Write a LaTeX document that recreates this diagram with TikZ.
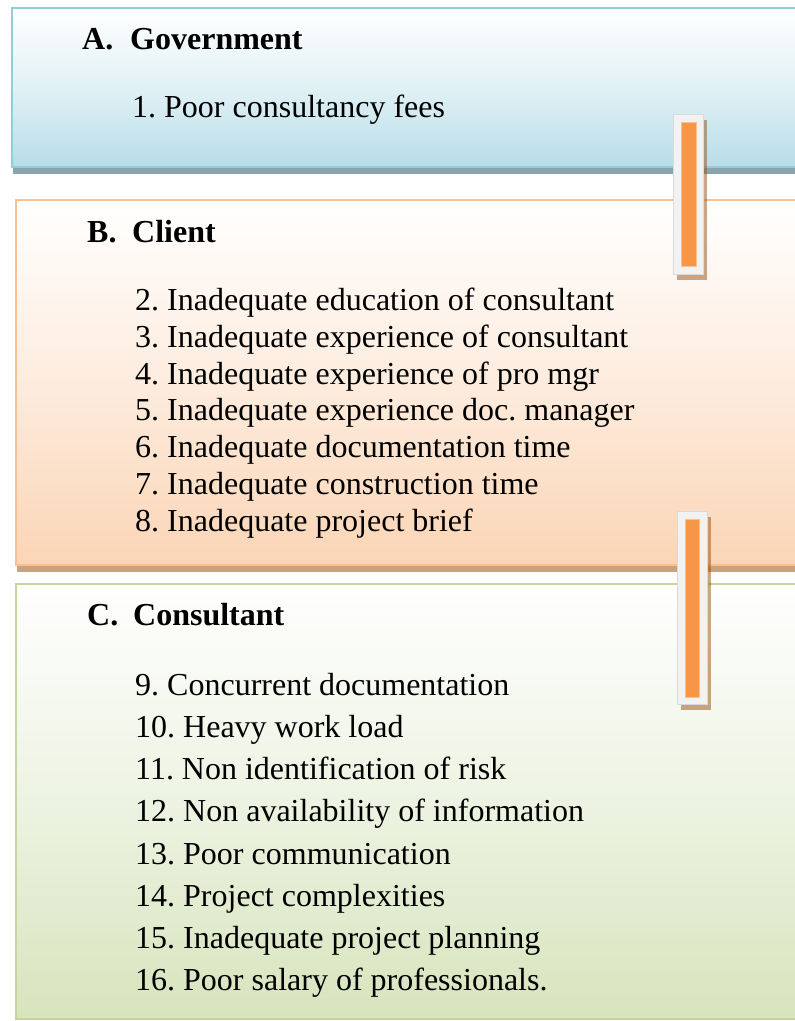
\documentclass[tikz,border=0pt]{standalone}
\usepackage{fontspec}
\setmainfont{Liberation Serif}
\frenchspacing
\definecolor{aFill}{RGB}{183,221,232}
\definecolor{aMid}{RGB}{225,241,245}
\definecolor{aLine}{RGB}{147,205,221}
\definecolor{aShadow}{RGB}{139,165,173}
\definecolor{bFill}{RGB}{251,213,181}
\definecolor{bMid}{RGB}{253,236,222}
\definecolor{bLine}{RGB}{250,192,144}
\definecolor{bShadow}{RGB}{201,162,128}
\definecolor{cFill}{RGB}{215,228,189}
\definecolor{cMid}{RGB}{237,243,226}
\definecolor{cLine}{RGB}{195,214,155}
\definecolor{barOrange}{RGB}{247,150,70}
\definecolor{barEdge}{RGB}{250,192,144}
\definecolor{barFrame}{RGB}{242,242,242}
\definecolor{barShadow}{RGB}{150,80,20}
\tikzset{
  panel/.style={anchor=north west, inner sep=0pt, outer sep=0pt, line width=2pt},
  panelshadow/.style={anchor=north west, inner sep=0pt, outer sep=0pt, draw=none},
  barshadow/.style={anchor=north west, inner sep=0pt, outer sep=0pt, fill=barShadow, fill opacity=0.5, draw=none, minimum width=30pt},
  barframe/.style={anchor=north west, inner sep=0pt, outer sep=0pt, fill=barFrame, draw=barFrame!90!black, line width=0.4pt, minimum width=30pt},
  barcore/.style={anchor=north west, inner sep=0pt, outer sep=0pt, fill=barOrange, draw=barEdge, line width=0.8pt},
  heading/.style={anchor=base west, inner sep=0pt, font=\fontsize{32}{38}\selectfont\bfseries\frenchspacing},
  item/.style={anchor=base west, inner sep=0pt, font=\fontsize{32}{38}\selectfont\frenchspacing}
}
\begin{document}
\begin{tikzpicture}[x=1pt,y=-1pt]
\useasboundingbox (0,0) rectangle (795,1021);
\clip (0,0) rectangle (795,1021);
\fill[white] (0,0) rectangle (795,1021);
% panel A
\node[panelshadow, fill=aShadow, minimum width=798pt, minimum height=8pt] (govtshadow) at (13,166) {};
\node[panel, draw=aLine, top color=white, bottom color=aFill, middle color=aMid, minimum width=798pt, minimum height=159pt] (govt) at (12,8) {};
% panel B
\node[panelshadow, fill=bShadow, minimum width=798pt, minimum height=8pt] (clientshadow) at (17,564) {};
\node[panel, draw=bLine, top color=white, bottom color=bFill, middle color=bMid, minimum width=798pt, minimum height=365pt] (client) at (16,200) {};
% connector A-B
\node[barshadow, minimum height=160pt] (barABshadow) at (677,120) {};
\node[barframe, minimum height=160pt] (barAB) at (673,114) {};
\node[barcore, minimum width=15pt, minimum height=144pt] (barABcore) at (681,122) {};
% panel C
\node[panel, draw=cLine, top color=white, bottom color=cFill, middle color=cMid, minimum width=798pt, minimum height=435pt] (consultant) at (16,584) {};
% connector B-C
\node[barshadow, minimum height=193pt] (barBCshadow) at (681,517) {};
\node[barframe, minimum height=193pt] (barBC) at (677,511) {};
\node[barcore, minimum width=14pt, minimum height=178pt] (barBCcore) at (685,519) {};
% texts A
\node[heading] (hA) at (82,49) {A.};
\node[heading] (hAt) at (130,49) {Government};
\node[item] (i1) at (132,117) {1. Poor consultancy fees};
% texts B
\node[heading] (hB) at (87,242) {B.};
\node[heading] (hBt) at (132,242) {Client};
\node[item] (i2) at (135,310) {2. Inadequate education of consultant};
\node[item] (i3) at (135,347) {3. Inadequate experience of consultant};
\node[item] (i4) at (135,384) {4. Inadequate experience of pro mgr};
\node[item] (i5) at (135,420) {5. Inadequate experience doc. manager};
\node[item] (i6) at (135,457) {6. Inadequate documentation time};
\node[item] (i7) at (135,494) {7. Inadequate construction time};
\node[item] (i8) at (135,531) {8. Inadequate project brief};
% texts C
\node[heading] (hC) at (87,625) {C.};
\node[heading] (hCt) at (133,625) {Consultant};
\node[item] (i9) at (135,695) {9. Concurrent documentation};
\node[item] (i10) at (135,737) {10. Heavy work load};
\node[item] (i11) at (135,779) {11. Non identification of risk};
\node[item] (i12) at (135,821) {12. Non availability of information};
\node[item] (i13) at (135,864) {13. Poor communication};
\node[item] (i14) at (135,906) {14. Project complexities};
\node[item] (i15) at (135,948) {15. Inadequate project planning};
\node[item] (i16) at (135,990) {16. Poor salary of professionals.};
\end{tikzpicture}
\end{document}
